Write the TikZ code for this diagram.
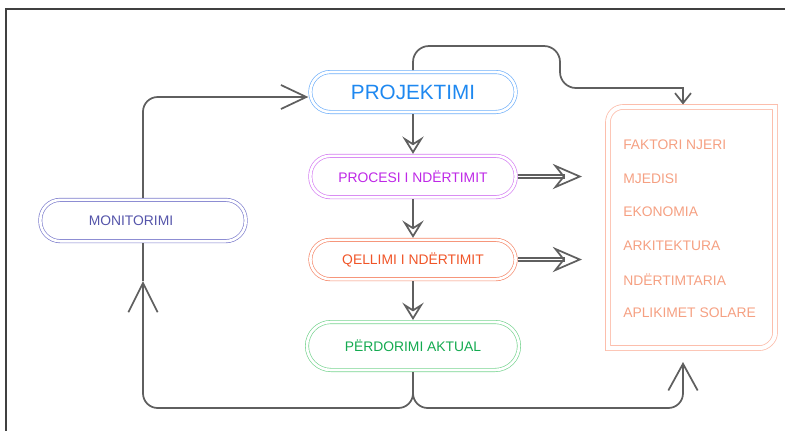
\documentclass[tikz,border=0pt]{standalone}
\usepackage{fontspec}
\setmainfont{Liberation Sans}
\usepackage{xcolor}
\usetikzlibrary{arrows.meta,calc}

\definecolor{linegray}{RGB}{95,95,95}
\definecolor{projblue}{RGB}{30,136,240}
\definecolor{projline}{RGB}{110,175,250}
\definecolor{procviolet}{RGB}{190,40,230}
\definecolor{procline}{RGB}{212,125,242}
\definecolor{qellred}{RGB}{240,85,40}
\definecolor{qellline}{RGB}{245,135,105}
\definecolor{perdgreen}{RGB}{20,170,80}
\definecolor{perdline}{RGB}{120,212,145}
\definecolor{monslate}{RGB}{85,85,170}
\definecolor{monline}{RGB}{125,125,205}
\definecolor{salmon}{RGB}{245,160,130}
\definecolor{salmonline}{RGB}{252,190,172}

\begin{document}
\begin{tikzpicture}[x=0.75pt,y=0.75pt,yscale=-1,xscale=1,
  stage/.style={draw, double=white, double distance=2pt, line width=0.5pt, rounded corners=15pt,
    minimum width=154pt, minimum height=30pt, inner sep=0pt, outer sep=1.5pt,
    font=\fontsize{10.4}{12}\selectfont},
  factor/.style={anchor=west, inner sep=0pt, text=salmon, font=\fontsize{10.4}{12}\selectfont},
  flow/.style={draw=linegray, line width=1.3pt},
  twin/.style={draw=linegray, double=white, double distance=0.7pt, line width=1.3pt},
  downtip/.style={-{Stealth[open,length=13pt,width=16pt,inset=5pt]}},
  bigtip/.style={-{Stealth[open,length=22pt,width=19pt,inset=7.5pt]}},
  vee/.style={-{Straight Barb[length=#1,width=22pt]}}
]
\useasboundingbox (0,0) rectangle (785,430);

% frame
\draw [line width=1.1pt, color=black!75] (6,445) -- (6,9) -- (800,9) ;

% Stages
\node [stage, draw=projline, text=projblue, minimum height=30pt, font=\fontsize{15.5}{18}\selectfont] (projektimi) at (413,92) {PROJEKTIMI};
\node [stage, draw=procline, text=procviolet, minimum height=31pt] (procesi) at (413,176.5) {PROCESI I NDËRTIMIT};
\node [stage, draw=qellline, text=qellred, minimum height=29.5pt] (qellimi) at (413,259.5) {QELLIMI I NDËRTIMIT};
\node [stage, draw=perdline, text=perdgreen, minimum width=159pt, minimum height=36pt, rounded corners=18pt] (perdorimi) at (413,346) {PËRDORIMI AKTUAL};
\node [stage, draw=monline, text=monslate, minimum height=31pt] (monitorimi) at (143,220.5) {\hspace*{-18pt}MONITORIMI};

% Factors box
\draw [salmonline, double=white, double distance=3pt, line width=0.6pt] (608,348) -- (608,122) .. controls (608,113.7) and (614.7,107) .. (623,107) -- (775,107) -- (775,333) .. controls (775,341.3) and (766.7,348) .. (760,348) -- cycle ;
\node [factor] (faktori) at (623,145) {FAKTORI NJERI};
\node [factor] (mjedisi) at (623,179) {MJEDISI};
\node [factor] (ekonomia) at (623,212) {EKONOMIA};
\node [factor] (arkitektura) at (623,245.5) {ARKITEKTURA};
\node [factor] (ndertimtaria) at (623,280) {NDËRTIMTARIA};
\node [factor] (aplikimet) at (623,313) {APLIKIMET SOLARE};

\coordinate (fcorner) at (683,88);
\coordinate (ftop) at (683,104.5);
\coordinate (fbot) at (683,362);
\coordinate (monin) at (143,281);
\coordinate (procout) at (582,176.5);
\coordinate (qellout) at (582,259.5);

% Straight Lines
\draw [flow, downtip] (projektimi) -- (procesi) ;
\draw [flow, downtip] (procesi) -- (qellimi) ;
\draw [flow, downtip] (qellimi) -- (perdorimi) ;

% Double arrows
\draw [twin] (procesi.east) -- ($(procout)+(-17,0)$) ;
\draw [flow, bigtip] ($(procout)+(-17,0)$) -- (procout) ;
\draw [twin] (qellimi.east) -- ($(qellout)+(-17,0)$) ;
\draw [flow, bigtip] ($(qellout)+(-17,0)$) -- (qellout) ;

% Loops
\draw [flow, rounded corners=12pt] (projektimi.north) -- (413,46) -- (560,46) -- (560,88) -- (fcorner) ;
\draw [flow, -{Straight Barb[length=7.5pt,width=12pt]}] ($(fcorner)+(0,-0.87)$) -- (ftop) ;
\draw [flow, rounded corners=11pt, vee=22pt] (perdorimi.south) |- (143,408) -- (monin) ;
\draw [flow] (monin) -- (monitorimi.south) ;
\draw [flow, rounded corners=11pt, vee=20pt] (perdorimi.south) |- (683,408) -- (fbot) ;
\draw [flow, rounded corners=11pt, -{Straight Barb[length=19pt,width=18pt]}] (monitorimi.north) |- ($(projektimi.west)+(0,5)$) ;

\end{tikzpicture}
\end{document}
